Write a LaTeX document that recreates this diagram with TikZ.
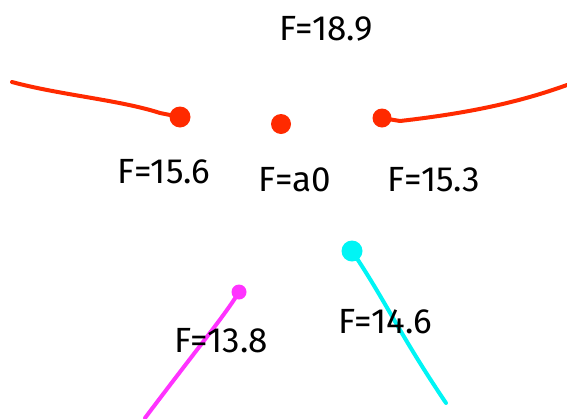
\documentclass[tikz,border=0pt]{standalone}
\usepackage{fontspec}
\setmainfont{Fira Sans}
\begin{document}
\begin{tikzpicture}[x=1pt,y=-1pt,
  lbl/.style={font=\fontsize{35}{37}\selectfont, inner sep=0pt},
  dotred/.style={circle, fill=redc, inner sep=0pt, minimum size=21pt},
  stroke/.style={line width=4pt, line cap=round, line join=round}]
\definecolor{redc}{HTML}{FF2A00}
\definecolor{magc}{HTML}{FF33FF}
\definecolor{cyac}{HTML}{00F5F5}
\useasboundingbox (0,0) rectangle (567,418);
% dots
\node[dotred] (d1) at (180,117) {};
\node[dotred, minimum size=20pt] (d2) at (281,124) {};
\node[dotred, minimum size=19pt] (d3) at (382,118) {};
\node[circle, fill=magc, inner sep=0pt, minimum size=15pt] (d4) at (239,292) {};
\node[circle, fill=cyac, inner sep=0pt, minimum size=21pt] (d5) at (352,251) {};
% free ends
\coordinate (e1) at (12,82);
\coordinate (e3) at (567,85);
\coordinate (e4) at (145,418);
\coordinate (e5) at (446,403);
% connectors
\draw[stroke, redc] (e1) .. controls (60,95) and (120,100) .. (160,113) -- (d1.center);
\draw[stroke, redc] (d3.center) -- (400,121) .. controls (470,113) and (520,102) .. (e3);
\draw[stroke, magc] (d4.center) .. controls (225,315) and (200,345) .. (e4);
\draw[stroke, cyac] (d5.center) .. controls (385,300) and (400,335) .. (e5);
% labels
\node[lbl] (t1) at (326,29) {F=18.9};
\node[lbl] (t2) at (164,172) {F=15.6};
\node[lbl] (t3) at (295,180) {F=a0};
\node[lbl] (t4) at (434,180) {F=15.3};
\node[lbl] (t5) at (221,341) {F=13.8};
\node[lbl] (t6) at (385,322) {F=14.6};
\end{tikzpicture}
\end{document}
